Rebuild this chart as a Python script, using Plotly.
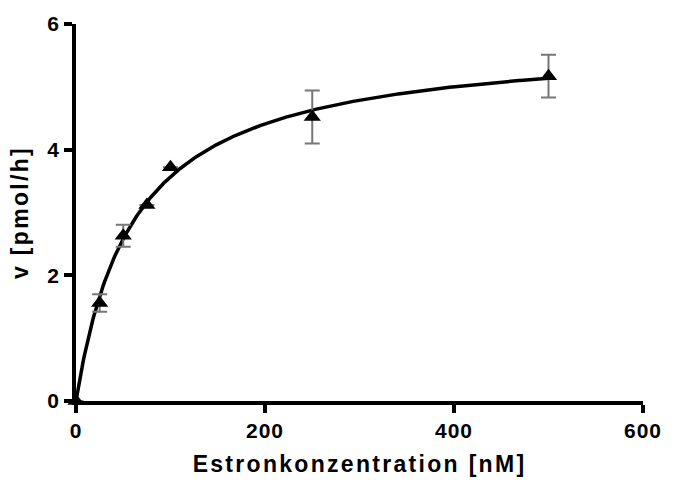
import numpy as np
import plotly.graph_objects as go

# Data
concentration_nM = [0, 25, 50, 75, 100, 250, 500]
velocity_pmol_h = [0.0, 1.56, 2.63, 3.12, 3.72, 4.52, 5.17]
# error bars hidden behind the markers are left out (None)
velocity_err = [None, 0.14, 0.175, None, None, 0.42, 0.34]
x_ticks = [0, 200, 400, 600]
y_ticks = [0, 2, 4, 6]
x_title = "Estronkonzentration [nM]"
y_title = "v [pmol/h]"

# Michaelis-Menten least-squares fit of the data (as in the original graph)
xd = np.array(concentration_nM, float)
yd = np.array(velocity_pmol_h, float)
best = None
for km in np.linspace(1, 300, 3000):
    f = xd / (km + xd)
    vmax = (yd * f).sum() / (f * f).sum()
    sse = ((yd - vmax * f) ** 2).sum()
    if best is None or sse < best[0]:
        best = (sse, km, vmax)
_, Km, Vmax = best
xc = np.linspace(0, 500, 400)
yc = Vmax * xc / (Km + xc)

FONT = "Liberation Sans, Arial, sans-serif"


def spaced(t, ls):
    return f'<span style="letter-spacing:{ls}px">{t}</span>'


fig = go.Figure()
fig.add_trace(go.Scatter(x=xc, y=yc, mode="lines",
                         line=dict(color="black", width=3.5),
                         hoverinfo="skip", showlegend=False))
fig.add_trace(go.Scatter(x=concentration_nM, y=velocity_pmol_h, mode="markers",
                         marker=dict(symbol="triangle-up", size=15, color="black"),
                         error_y=dict(type="data", array=velocity_err, visible=True,
                                      color="#777777", thickness=2, width=7.5),
                         cliponaxis=False, showlegend=False))

axis_common = dict(showline=True, linecolor="black", linewidth=3.5,
                   ticks="outside", ticklen=8, tickwidth=3.5, tickcolor="black",
                   showgrid=False, zeroline=False,
                   tickfont=dict(family=FONT, size=21, color="black", weight="bold"))

fig.update_xaxes(range=[0, 600], tickvals=x_ticks,
                 ticktext=[spaced(v, 1) for v in x_ticks],
                 title=dict(text=spaced(x_title, 2.3), standoff=16,
                            font=dict(family=FONT, size=23, color="black", weight="bold")),
                 **axis_common)
fig.update_yaxes(range=[0, 6], tickvals=y_ticks,
                 ticktext=[spaced(v, 1) for v in y_ticks],
                 title=dict(text=spaced(y_title, 2.3), standoff=13,
                            font=dict(family=FONT, size=23, color="black", weight="bold")),
                 **axis_common)

fig.update_layout(width=674, height=486,
                  margin=dict(l=76, r=20, t=22, b=82),
                  plot_bgcolor="white", paper_bgcolor="white")

fig.write_html("out.html")
